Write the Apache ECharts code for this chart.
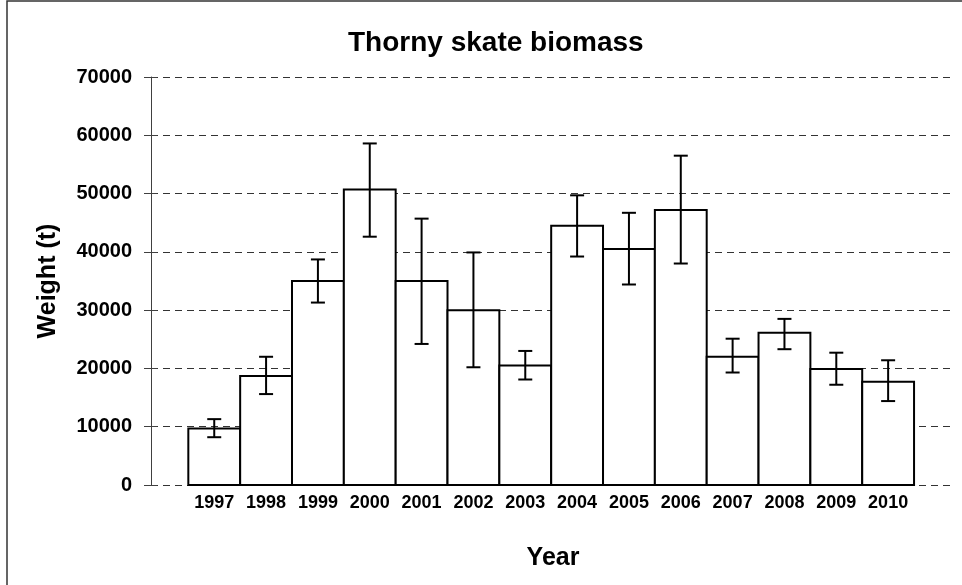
<!DOCTYPE html>
<html>
<head>
<meta charset="utf-8">
<title>Thorny skate biomass</title>
<script src="https://cdn.jsdelivr.net/npm/echarts@6/dist/echarts.min.js"></script>
<style>
html,body{margin:0;padding:0;background:#fff;}
#box{width:962px;height:585px;}
</style>
</head>
<body>
<div id="box"></div>
<script>
//数据项
var years = [1997, 1998, 1999, 2000, 2001, 2002, 2003, 2004, 2005, 2006, 2007, 2008, 2009, 2010];
var biomass = [9700, 18700, 35000, 50700, 35000, 30000, 20500, 44500, 40500, 47200, 22000, 26100, 19900, 17700];
var errLow = [8200, 15600, 31300, 42600, 24200, 20200, 18100, 39200, 34400, 38000, 19300, 23300, 17200, 14400];
var errHigh = [11300, 22000, 38700, 58600, 45700, 39900, 23000, 49700, 46700, 56500, 25100, 28500, 22700, 21400];

var font = 'Liberation Sans, Arial, sans-serif';

var data = [];
for (var i = 0; i < years.length; i++) {
    data.push([years[i], biomass[i], errLow[i], errHigh[i]]);
}

//柱子 + 误差线
function renderBar(params, api) {
    var x = api.value(0);
    var p0 = api.coord([x - 0.5, 0]);
    var p1 = api.coord([x + 0.5, api.value(1)]);
    var lo = api.coord([x, api.value(2)]);
    var hi = api.coord([x, api.value(3)]);
    var cap = 7;
    var line = {stroke: '#000', lineWidth: 2};
    return {
        type: 'group',
        children: [
            {type: 'rect', shape: {x: p0[0], y: p1[1], width: p1[0] - p0[0], height: p0[1] - p1[1]},
                style: {fill: '#fff', stroke: '#000', lineWidth: 2}},
            {type: 'line', shape: {x1: lo[0], y1: lo[1], x2: hi[0], y2: hi[1]}, style: line},
            {type: 'line', shape: {x1: lo[0] - cap, y1: lo[1], x2: lo[0] + cap, y2: lo[1]}, style: line},
            {type: 'line', shape: {x1: hi[0] - cap, y1: hi[1], x2: hi[0] + cap, y2: hi[1]}, style: line}
        ]
    };
}

var option = {
    animation: false,
    backgroundColor: '#fff',
    title: {
        text: 'Thorny skate biomass',
        left: 343,
        top: 24,
        textStyle: {fontFamily: font, fontSize: 28, fontWeight: 'bold', color: '#000'}
    },
    graphic: [
        {type: 'rect', shape: {x: 7, y: 1, width: 1000, height: 1000},
            style: {fill: 'none', stroke: '#333', lineWidth: 1.5}, silent: true}
    ],
    grid: {left: 151, right: 7, top: 77, bottom: 100},
    xAxis: {
        type: 'value',
        min: 1995.78,
        max: 2011.29,
        name: 'Year',
        nameLocation: 'middle',
        nameGap: 61,
        nameTextStyle: {fontFamily: font, fontSize: 25, fontWeight: 'bold', color: '#000'},
        axisLine: {show: false},
        axisTick: {show: false},
        splitLine: {show: false},
        axisLabel: {
            customValues: years,
            formatter: function (v) { return String(v); },
            margin: 9,
            fontFamily: font,
            fontSize: 18,
            fontWeight: 'bold',
            color: '#000'
        }
    },
    yAxis: [
        {
            type: 'value',
            min: 0,
            max: 70000,
            interval: 10000,
            name: 'Weight (t)',
            nameLocation: 'middle',
            nameGap: 90,
            nameTextStyle: {fontFamily: font, fontSize: 25, fontWeight: 'bold', color: '#000'},
            axisLine: {show: true, lineStyle: {color: '#404040', width: 1}},
            axisTick: {show: true, length: 7, lineStyle: {color: '#404040'}},
            axisLabel: {
                margin: 19,
                formatter: function (v) { return String(v); },
                fontFamily: font,
                fontSize: 20,
                fontWeight: 'bold',
                color: '#000'
            },
            splitLine: {show: true, lineStyle: {color: '#333', type: [7, 5], width: 1}}
        },
        {
            // 刻度线穿过轴线的内侧部分
            type: 'value',
            position: 'left',
            min: 0,
            max: 70000,
            interval: 10000,
            axisLine: {show: false},
            axisTick: {show: true, inside: true, length: 6, lineStyle: {color: '#404040'}},
            axisLabel: {show: false},
            splitLine: {show: false}
        }
    ],
    series: [
        {
            type: 'custom',
            renderItem: renderBar,
            encode: {x: 0, y: 1},
            data: data,
            z: 3
        }
    ]
};

var chart = echarts.init(document.getElementById('box'));
chart.setOption(option);
</script>
</body>
</html>
